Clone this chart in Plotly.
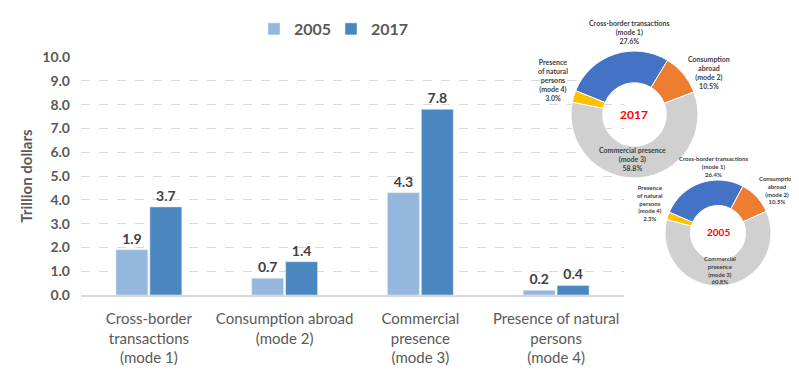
import plotly.graph_objects as go

categories = ["Cross-border<br>transactions<br>(mode 1)", "Consumption abroad<br>(mode 2)",
              "Commercial<br>presence<br>(mode 3)", "Presence of natural<br>persons<br>(mode 4)"]
years = ["2005", "2017"]
values_2005 = [1.9, 0.7, 4.3, 0.2]
values_2017 = [3.7, 1.4, 7.8, 0.4]
y_ticks = [0, 1, 2, 3, 4, 5, 6, 7, 8, 9, 10]

pie_labels = ["Cross-border transactions (mode 1)", "Consumption abroad (mode 2)",
              "Commercial presence (mode 3)", "Presence of natural persons (mode 4)"]
share_2017 = [27.6, 10.5, 58.8, 3.0]
share_2005 = [26.4, 10.5, 60.8, 2.3]

label_text_2017 = ["Cross-border transactions<br>(mode 1)<br>27.6%",
                   "Consumption<br>abroad<br>(mode 2)<br>10.5%",
                   "Commercial presence<br>(mode 3)<br>58.8%",
                   "Presence<br>of natural<br>persons<br>(mode 4)<br>3.0%"]
label_text_2005 = ["Cross-border transactions<br>(mode 1)<br>26.4%",
                   "Consumption<br>abroad<br>(mode 2)<br>10.5%",
                   "Commercial<br>presence<br>(mode 3)<br>60.8%",
                   "Presence<br>of natural<br>persons<br>(mode 4)<br>2.3%"]

# the page body has an 8px margin: size the figure to fill the rest of the window
OFF = 8
W, H = 799 - OFF, 382 - OFF
FONT = "Lato"
GREY = "#595959"
DARK = "#404040"
pie_colors = ["#4472C4", "#ED7D31", "#D0D0D0", "#FFC000"]


def fx(x):
    return (x - OFF) / W


def fy(y):
    return 1 - (y - OFF) / H


fig = go.Figure()
fig.add_trace(go.Bar(x=categories, y=values_2005, name=years[0], marker_color="#95B7DE",
                     texttemplate="%{y:.1f}", textposition="outside", cliponaxis=False,
                     textfont=dict(size=14, color=DARK, family=FONT, weight="bold")))
fig.add_trace(go.Bar(x=categories, y=values_2017, name=years[1], marker_color="#4A86BF",
                     texttemplate="%{y:.1f}", textposition="outside", cliponaxis=False,
                     textfont=dict(size=14, color=DARK, family=FONT, weight="bold")))


def px_dom(x0, x1, y0, y1):
    return dict(x=[fx(x0), fx(x1)], y=[fy(y1), fy(y0)])


fig.add_trace(go.Pie(labels=pie_labels, values=share_2017, hole=0.5, sort=False,
                     direction="clockwise", rotation=-68, textinfo="none", showlegend=False,
                     hoverinfo="label+percent",
                     marker=dict(colors=pie_colors, line=dict(color="white", width=1)),
                     domain=px_dom(571, 698, 51, 178)))
fig.add_trace(go.Pie(labels=pie_labels, values=share_2005, hole=0.52, sort=False,
                     direction="clockwise", rotation=-67, textinfo="none", showlegend=False,
                     hoverinfo="label+percent",
                     marker=dict(colors=pie_colors, line=dict(color="white", width=1)),
                     domain=px_dom(665, 771, 180, 286)))

annotations = []
pos_2017 = [(629, 32), (709, 72), (632, 159), (553, 80)]
pos_2005 = [(713, 166), (777, 190), (720, 270), (650, 203)]
for txt, (x, y) in zip(label_text_2017, pos_2017):
    annotations.append(dict(x=fx(x), y=fy(y), xref="paper", yref="paper", text=txt,
                            showarrow=False, xanchor="center", yanchor="middle",
                            font=dict(size=7, color=DARK, family=FONT, weight="bold")))
for txt, (x, y) in zip(label_text_2005, pos_2005):
    annotations.append(dict(x=fx(x), y=fy(y), xref="paper", yref="paper", text=txt,
                            showarrow=False, xanchor="center", yanchor="middle",
                            font=dict(size=6, color=DARK, family=FONT, weight="bold")))
annotations.append(dict(x=fx(634), y=fy(114), xref="paper", yref="paper", text=years[1],
                        showarrow=False, xanchor="center", yanchor="middle",
                        font=dict(size=12, color="#FF0000", family=FONT, weight="bold")))
annotations.append(dict(x=fx(718), y=fy(232), xref="paper", yref="paper", text=years[0],
                        showarrow=False, xanchor="center", yanchor="middle",
                        font=dict(size=10, color="#FF0000", family=FONT, weight="bold")))

fig.update_layout(
    width=W, height=H, margin=dict(l=0, r=0, t=0, b=0, autoexpand=False),
    paper_bgcolor="white", plot_bgcolor="white",
    barmode="group", bargap=0.5, bargroupgap=0.06,
    font=dict(family=FONT, color=GREY),
    legend=dict(orientation="h", x=fx(254), y=fy(12), xanchor="left", yanchor="top",
                font=dict(size=16, color=GREY, family=FONT, weight="bold"),
                itemwidth=30, entrywidth=32, traceorder="normal"),
    xaxis=dict(domain=[fx(81), fx(624)], showline=True, linecolor="#D9D9D9", linewidth=2,
               automargin=False,
               tickfont=dict(size=15, color=GREY, family=FONT), ticks="", ticklabelstandoff=9),
    yaxis=dict(domain=[fy(295), fy(57)], range=[0, 10], tickvals=y_ticks,
               automargin=False,
               tickformat=".1f", showgrid=True, gridcolor="#D9D9D9", griddash="dash",
               zeroline=False, tickfont=dict(size=14, color=GREY, family=FONT, weight="bold"),
               ticklabelstandoff=10,
               title=dict(text="Trillion dollars", standoff=6,
                          font=dict(size=15, color=GREY, family=FONT, weight="bold"))),
    annotations=annotations,
)

fig.write_html("out.html")
